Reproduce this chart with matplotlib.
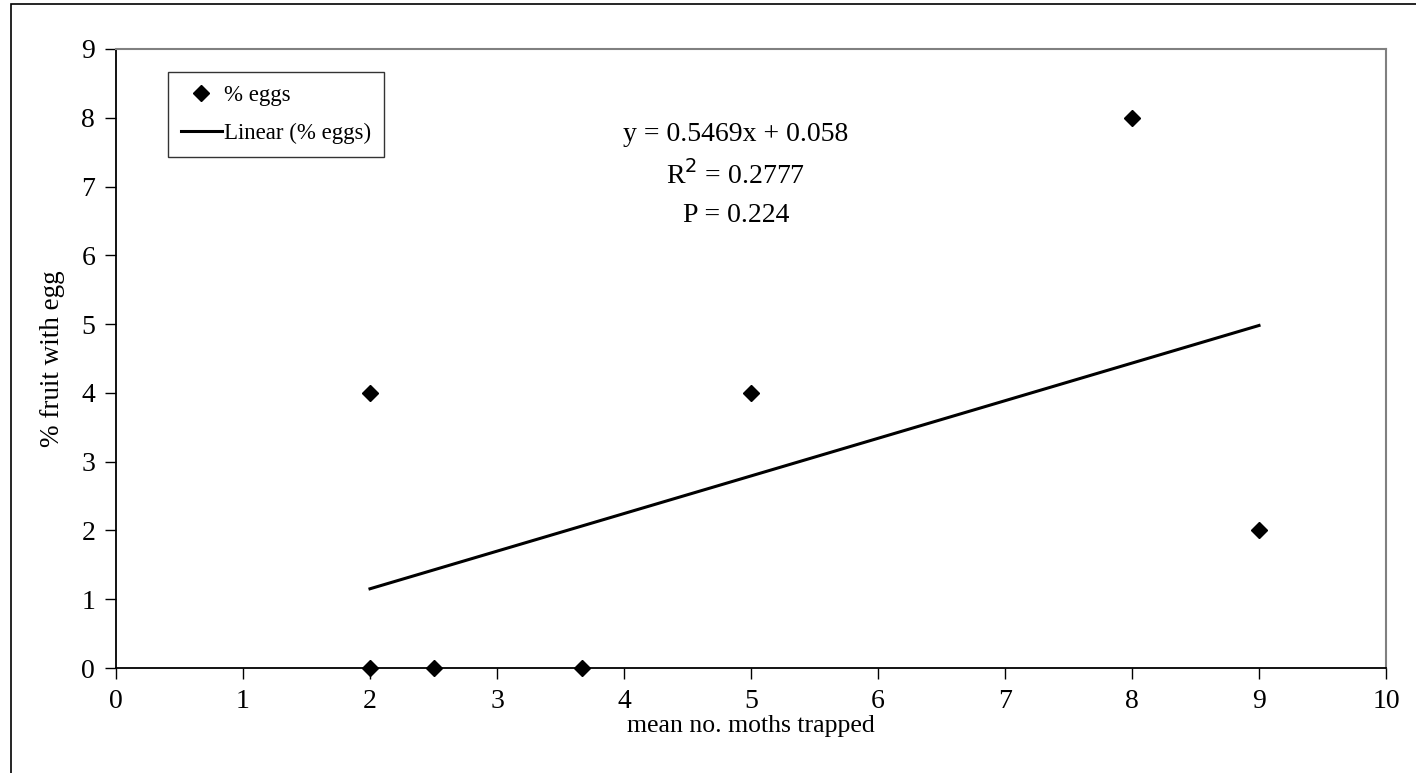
import numpy as np
import matplotlib.pyplot as plt
from matplotlib.patches import Rectangle

plt.rcParams["font.family"] = ["Liberation Serif", "DejaVu Serif"]

moths = [2, 2, 2.5, 3.67, 5, 8, 9]
eggs = [4, 0, 0, 0, 4, 8, 2]
p_value = 0.224

slope, intercept = np.polyfit(moths, eggs, 1)
r2 = np.corrcoef(moths, eggs)[0, 1] ** 2

fig = plt.figure(figsize=(14.16, 7.73), dpi=100)
# outer chart border (cut off at right/bottom like the source)
fig.patches.append(Rectangle((11 / 1416, -0.1), 1.2, 1.1 - 4 / 773, transform=fig.transFigure,
                             fill=False, edgecolor="black", linewidth=1.2))
ax = fig.add_axes([116 / 1416, 1 - 668 / 773, (1386 - 116) / 1416, (668 - 49) / 773])

ax.plot(moths, eggs, linestyle="none", marker="D", markersize=8, color="black", label="% eggs",
        clip_on=False, zorder=3)
xs = np.array([min(moths), max(moths)])
ax.plot(xs, slope * xs + intercept, color="black", linewidth=2.2, label="Linear (% eggs)")

ax.set_xlim(0, 10)
ax.set_ylim(0, 9)
ax.set_xticks(range(0, 11))
ax.set_yticks(range(0, 10))
ax.tick_params(direction="out", length=8, width=1, labelsize=20, pad=7, color="black")
for s in ["top", "right"]:
    ax.spines[s].set_color("#808080")
    ax.spines[s].set_linewidth(1.5)
for s in ["left", "bottom"]:
    ax.spines[s].set_linewidth(1.3)

ax.set_xlabel("mean no. moths trapped", fontsize=18.5, labelpad=1)
ax.set_ylabel("% fruit with egg", fontsize=19.5, labelpad=12)

tx = 4.88
ax.text(tx, 7.75, "y = %.4fx + %.3f" % (slope, intercept), ha="center", va="center", fontsize=20)
ax.text(tx, 7.17, "R$^2$ = %.4f" % r2, ha="center", va="center", fontsize=20)
ax.text(tx, 6.58, "P = %.3f" % p_value, ha="center", va="center", fontsize=20)

leg = ax.legend(loc="upper left", bbox_to_anchor=((168 - 116) / 1270, 1 - (72 - 49) / 619),
                fontsize=16.5, frameon=True, fancybox=False, edgecolor="black",
                borderpad=0.55, handlelength=1.8, handletextpad=0.1, labelspacing=0.75,
                borderaxespad=0)
leg.get_frame().set_linewidth(1)

fig.savefig("out.png", dpi=100)
